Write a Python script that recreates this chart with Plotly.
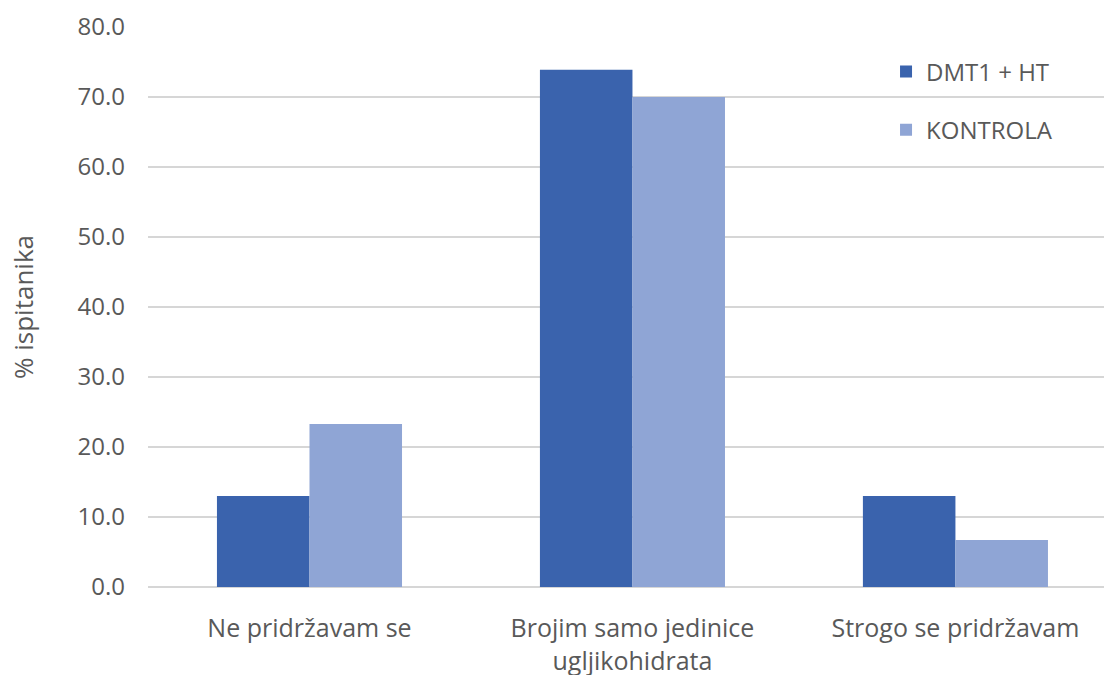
import plotly.graph_objects as go

categories = ["Ne pridržavam se", "Brojim samo jedinice<br>ugljikohidrata", "Strogo se pridržavam"]
dmt1_ht = [13.0, 73.9, 13.0]
kontrola = [23.3, 70.0, 6.7]
y_ticks = [0, 10, 20, 30, 40, 50, 60, 70, 80]

FONT = "Open Sans"
TXT = "#595959"

fig = go.Figure()
fig.add_trace(go.Bar(x=categories, y=dmt1_ht, name="DMT1 + HT",
                     marker=dict(color="#3A63AD", line=dict(width=0)), legendgroup="a"))
fig.add_trace(go.Bar(x=categories, y=kontrola, name="KONTROLA",
                     marker=dict(color="#8FA5D5", line=dict(width=0)), legendgroup="b"))

fig.update_layout(
    width=1104, height=675,
    margin=dict(l=148, r=0, t=27, b=88),
    paper_bgcolor="white", plot_bgcolor="white",
    barmode="group", bargap=0.427, bargroupgap=0,
    font=dict(family=FONT, size=25, color=TXT),
    legend=dict(x=0.772, y=0.96, xanchor="left", yanchor="top",
                font=dict(family=FONT, size=24, color=TXT),
                tracegroupgap=24, bgcolor="rgba(0,0,0,0)"),
    xaxis=dict(range=[-0.5, 2.46], showgrid=False, showline=False, ticks="",
               ticklabelstandoff=24, automargin=False,
               tickfont=dict(family=FONT, size=25, color=TXT)),
    yaxis=dict(range=[0, 80], tickvals=y_ticks, tickformat=".1f",
               showgrid=True, gridcolor="#D6D6D6", gridwidth=1.5,
               zeroline=True, zerolinecolor="#D6D6D6", zerolinewidth=1.5,
               showline=False, ticks="", ticklen=0, ticklabelstandoff=22,
               automargin=False,
               tickfont=dict(family=FONT, size=24, color=TXT),
               title=dict(text="% ispitanika", font=dict(family=FONT, size=26, color=TXT),
                          standoff=36)),
)

fig.write_html("out.html", config={"displayModeBar": False},
               post_script="document.body.style.margin='0';")
